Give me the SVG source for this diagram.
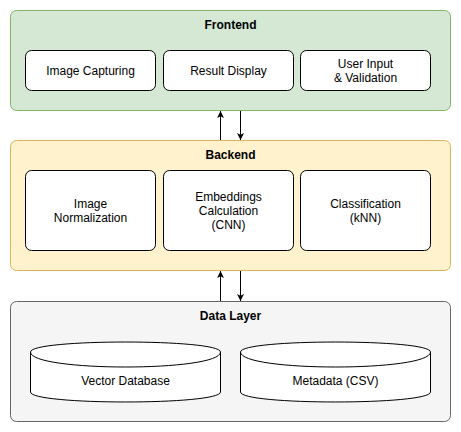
<svg xmlns="http://www.w3.org/2000/svg" width="461" height="432" viewBox="0 0 461 432">
<style>
text{font-family:"Liberation Sans",Arial,Helvetica,sans-serif;font-size:12px;fill:#000;text-anchor:middle}
.title{font-weight:bold}
.box{fill:#fff;stroke:#000;stroke-width:1}
.conn{stroke:#000;stroke-width:1;fill:none}
</style>
<defs>
<marker id="ah" viewBox="0 0 10 10" refX="10" refY="5" markerWidth="7" markerHeight="7" markerUnits="userSpaceOnUse" orient="auto">
<path d="M0,0 L10,5 L0,10 L2.5,5 Z" fill="#000"/>
</marker>
</defs>
<g id="frontend">
<rect x="10.5" y="10.5" width="440" height="100" rx="6" fill="#d5e8d4" stroke="#82b366"/>
<text class="title" x="230.5" y="29">Frontend</text>
</g>
<g id="image-capturing">
<rect class="box" x="25.5" y="50.5" width="130" height="40" rx="6"/>
<text x="90.5" y="74.5">Image Capturing</text>
</g>
<g id="result-display">
<rect class="box" x="163.5" y="50.5" width="130" height="40" rx="6"/>
<text x="228.5" y="74.5">Result Display</text>
</g>
<g id="user-input">
<rect class="box" x="300.5" y="50.5" width="130" height="40" rx="6"/>
<text x="365.5" y="67.5">User Input</text>
<text x="365.5" y="81.5">&amp; Validation</text>
</g>
<g id="backend">
<rect x="10.5" y="140.5" width="440" height="130" rx="6" fill="#fff2cc" stroke="#d6b656"/>
<text class="title" x="230.5" y="159">Backend</text>
</g>
<g id="image-normalization">
<rect class="box" x="25.5" y="170.5" width="130" height="80" rx="6"/>
<text x="90.5" y="207.5">Image</text>
<text x="90.5" y="221.5">Normalization</text>
</g>
<g id="embeddings">
<rect class="box" x="163.5" y="170.5" width="130" height="80" rx="6"/>
<text x="228.5" y="200.5">Embeddings</text>
<text x="228.5" y="214.5">Calculation</text>
<text x="228.5" y="228.5">(CNN)</text>
</g>
<g id="classification">
<rect class="box" x="300.5" y="170.5" width="130" height="80" rx="6"/>
<text x="365.5" y="207.5">Classification</text>
<text x="365.5" y="221.5">(kNN)</text>
</g>
<g id="data-layer">
<rect x="10.5" y="301.5" width="440" height="120" rx="6" fill="#f5f5f5" stroke="#666666"/>
<text class="title" x="230.5" y="320">Data Layer</text>
</g>
<g id="vector-database">
<path class="box" d="M30.5,352 C30.5,338.7 220.5,338.7 220.5,352 L220.5,392 C220.5,405.3 30.5,405.3 30.5,392 Z"/>
<path class="conn" d="M30.5,352 C30.5,372 220.5,372 220.5,352"/>
<text x="125.5" y="384.5">Vector Database</text>
</g>
<g id="metadata">
<path class="box" d="M240.5,352 C240.5,338.7 430.5,338.7 430.5,352 L430.5,392 C430.5,405.3 240.5,405.3 240.5,392 Z"/>
<path class="conn" d="M240.5,352 C240.5,372 430.5,372 430.5,352"/>
<text x="335.5" y="384.5">Metadata (CSV)</text>
</g>
<g id="connectors">
<line class="conn" x1="220.5" y1="140" x2="220.5" y2="111" marker-end="url(#ah)"/>
<line class="conn" x1="240.5" y1="111" x2="240.5" y2="140" marker-end="url(#ah)"/>
<line class="conn" x1="220.5" y1="301" x2="220.5" y2="271" marker-end="url(#ah)"/>
<line class="conn" x1="240.5" y1="271" x2="240.5" y2="301" marker-end="url(#ah)"/>
</g>
</svg>
